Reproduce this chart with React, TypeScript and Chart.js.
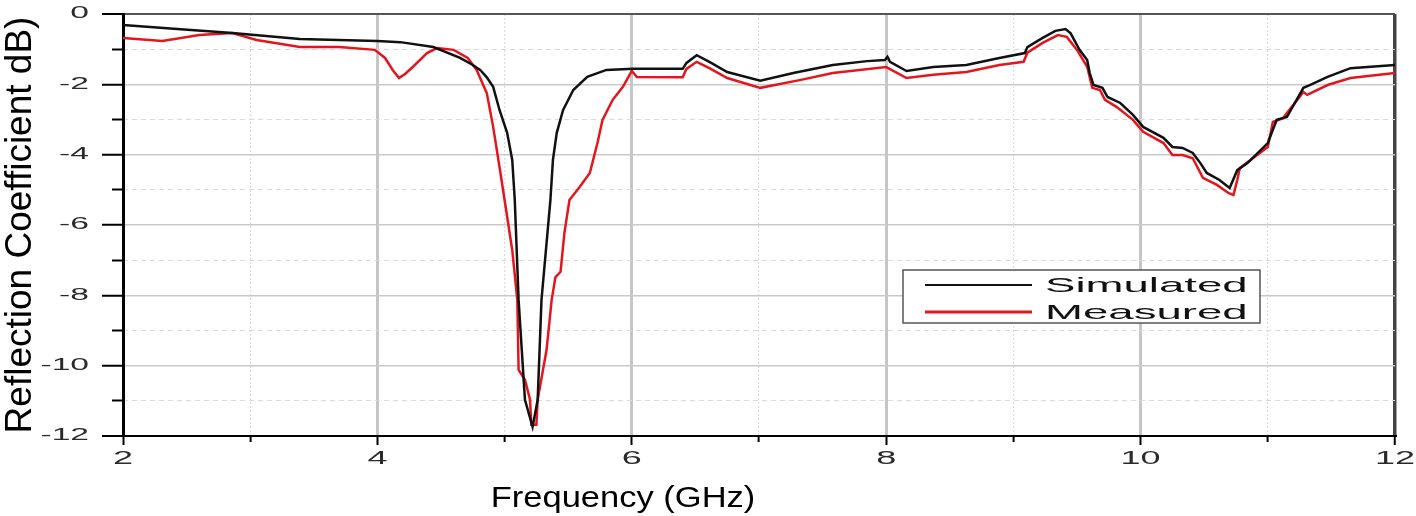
import React, { useEffect, useRef } from "react";
import { Chart, registerables } from "chart.js";

Chart.register(...registerables);

const FONT = "'Liberation Sans', Arial, Helvetica, sans-serif";

// ---- data ----
const simFreq = [2.0, 2.4, 2.86, 3.39, 4.0, 4.18, 4.44, 4.65, 4.75, 4.81, 4.86, 4.91, 4.96, 5.02, 5.06, 5.08, 5.11, 5.16, 5.22, 5.26, 5.29, 5.36, 5.38, 5.41, 5.46, 5.54, 5.65, 5.8, 6.01, 6.4, 6.43, 6.51, 6.61, 6.75, 7.01, 7.27, 7.58, 7.85, 7.99, 8.01, 8.03, 8.16, 8.37, 8.63, 8.89, 9.09, 9.11, 9.23, 9.33, 9.41, 9.45, 9.52, 9.58, 9.6, 9.63, 9.7, 9.74, 9.84, 9.94, 10.02, 10.18, 10.25, 10.33, 10.41, 10.47, 10.52, 10.62, 10.7, 10.76, 10.84, 11.0, 11.07, 11.15, 11.28, 11.33, 11.47, 11.65, 12.0];
const simDb = [-0.31, -0.42, -0.54, -0.71, -0.77, -0.8, -0.94, -1.25, -1.45, -1.6, -1.8, -2.07, -2.73, -3.38, -4.15, -5.29, -8.13, -10.97, -11.74, -10.97, -8.13, -5.29, -4.15, -3.38, -2.73, -2.16, -1.79, -1.59, -1.56, -1.56, -1.39, -1.17, -1.36, -1.65, -1.9, -1.68, -1.45, -1.34, -1.31, -1.22, -1.36, -1.62, -1.51, -1.45, -1.25, -1.11, -0.94, -0.68, -0.48, -0.43, -0.55, -1.02, -1.31, -1.68, -2.02, -2.1, -2.36, -2.53, -2.87, -3.21, -3.52, -3.78, -3.81, -3.95, -4.24, -4.52, -4.72, -4.95, -4.44, -4.24, -3.67, -3.01, -2.93, -2.1, -2.02, -1.79, -1.54, -1.45];

const measFreq = [2.0, 2.31, 2.6, 2.86, 3.05, 3.39, 3.7, 3.98, 4.06, 4.12, 4.17, 4.22, 4.28, 4.39, 4.47, 4.6, 4.71, 4.78, 4.86, 4.91, 4.96, 5.0, 5.06, 5.1, 5.11, 5.16, 5.2, 5.21, 5.25, 5.26, 5.33, 5.37, 5.4, 5.44, 5.47, 5.51, 5.59, 5.67, 5.73, 5.77, 5.85, 5.93, 6.0, 6.04, 6.4, 6.43, 6.51, 6.61, 6.75, 7.01, 7.32, 7.58, 8.0, 8.16, 8.37, 8.63, 8.89, 9.08, 9.11, 9.23, 9.35, 9.42, 9.5, 9.58, 9.62, 9.68, 9.72, 9.81, 9.94, 10.02, 10.18, 10.25, 10.33, 10.41, 10.49, 10.6, 10.69, 10.73, 10.76, 10.78, 11.0, 11.04, 11.12, 11.28, 11.31, 11.47, 11.65, 12.0];
const measDb = [-0.68, -0.77, -0.6, -0.54, -0.74, -0.94, -0.94, -1.02, -1.25, -1.59, -1.82, -1.7, -1.5, -1.11, -0.97, -1.02, -1.25, -1.59, -2.25, -3.21, -4.35, -5.29, -6.71, -8.13, -10.12, -10.4, -10.97, -11.68, -11.68, -10.97, -9.55, -8.13, -7.48, -7.33, -6.23, -5.29, -4.92, -4.52, -3.67, -3.01, -2.44, -2.07, -1.62, -1.79, -1.8, -1.56, -1.36, -1.54, -1.82, -2.1, -1.88, -1.68, -1.51, -1.82, -1.73, -1.65, -1.45, -1.36, -1.1, -0.82, -0.6, -0.65, -1.02, -1.5, -2.1, -2.16, -2.44, -2.64, -3.01, -3.35, -3.67, -4.01, -4.01, -4.1, -4.66, -4.86, -5.09, -5.15, -4.72, -4.38, -3.78, -3.07, -2.96, -2.22, -2.3, -2.02, -1.82, -1.68];

const seriesLabels = ["Simulated", "Measured"];
const seriesColors = ["#111111", "#e3161e"];
const xMajorTicks = [2, 4, 6, 8, 10, 12];
const xMinorTicks = [3, 5, 7, 9, 11];
const yMajorTicks = [0, -2, -4, -6, -8, -10, -12];
const yMinorTicks = [-1, -3, -5, -7, -9, -11];
const xTitle = "Frequency (GHz)";
const yTitle = "Reflection Coefficient dB)";

function stretchText(ctx: any, text: string, x: number, y: number, font: string, sx: number, align: string, baseline: string, color: string) {
  ctx.save();
  ctx.font = font;
  ctx.fillStyle = color;
  ctx.textAlign = align;
  ctx.textBaseline = baseline;
  ctx.translate(x, y);
  ctx.scale(sx, 1);
  ctx.fillText(text, 0, 0);
  ctx.restore();
}

const textPlugin = {
  id: "stretchedText",
  afterDraw(chart: any) {
    const ctx = chart.ctx;
    const xs = chart.scales.x;
    const ys = chart.scales.y;
    // y tick labels
    ys.ticks.forEach((t: any, i: number) => {
      const py = ys.getPixelForValue(t.value);
      const lbl = ys.getLabels ? String(ys._tickLabels ? ys._tickLabels[i] : t.label) : t.label;
      stretchText(ctx, String(t.label ?? lbl), ys.right - 34, py, `16px ${FONT}`, 2.1, "right", "middle", "#2a2a2a");
    });
    // x tick labels
    xs.ticks.forEach((t: any) => {
      const px = xs.getPixelForValue(t.value);
      stretchText(ctx, String(t.label), px, xs.top + 23, `18px ${FONT}`, 2.0, "center", "middle", "#2a2a2a");
    });
    // x title
    stretchText(ctx, xTitle, 623, 507, `30px ${FONT}`, 1.15, "center", "alphabetic", "#000");

    // legend
    const bx = 903, by = 270, bw = 357, bh = 53;
    ctx.save();
    ctx.fillStyle = "#ffffff";
    ctx.fillRect(bx, by, bw, bh);
    ctx.strokeStyle = "#555";
    ctx.lineWidth = 1.5;
    ctx.strokeRect(bx, by, bw, bh);
    chart.data.datasets.forEach((ds: any, i: number) => {
      const ly = i === 0 ? 285 : 312;
      ctx.beginPath();
      ctx.strokeStyle = ds.borderColor;
      ctx.lineWidth = i === 0 ? 2 : 3;
      ctx.moveTo(925, ly);
      ctx.lineTo(1032, ly);
      ctx.stroke();
      stretchText(ctx, ds.label, 1045, ly + 1, `21px ${FONT}`, 2.17, "left", "middle", "#111");
    });
    ctx.restore();
  },
};

export default function App() {
  const ref = useRef<HTMLCanvasElement | null>(null);

  useEffect(() => {
    if (!ref.current) return;
    const chart = new Chart(ref.current, {
      type: "line",
      data: {
        datasets: [
          {
            label: seriesLabels[0],
            data: simFreq.map((f, i) => ({ x: f, y: simDb[i] })),
            borderColor: seriesColors[0],
            backgroundColor: seriesColors[0],
            borderWidth: 2.5,
            pointRadius: 0,
            tension: 0,
            xAxisID: "x",
            yAxisID: "y",
          },
          {
            label: seriesLabels[1],
            data: measFreq.map((f, i) => ({ x: f, y: measDb[i] })),
            borderColor: seriesColors[1],
            backgroundColor: seriesColors[1],
            borderWidth: 2.5,
            pointRadius: 0,
            tension: 0,
            xAxisID: "x",
            yAxisID: "y",
          },
        ],
      },
      options: {
        animation: false,
        responsive: true,
        maintainAspectRatio: false,
        layout: { padding: { top: 14, right: 21, left: 0, bottom: 0 } },
        plugins: { legend: { display: false }, tooltip: { enabled: false } },
        scales: {
          x: {
            type: "linear",
            position: "bottom",
            weight: 0,
            min: 2,
            max: 12,
            afterBuildTicks: (s: any) => { s.ticks = xMajorTicks.map((v) => ({ value: v })); },
            ticks: { display: false },
            grid: {
              color: (c: any) => (c.tick && c.tick.value === 2 ? "rgba(0,0,0,0)" : c.tick && c.tick.value === 12 ? "#454545" : "#c6c6c6"),
              lineWidth: (c: any) => (c.tick && c.tick.value === 12 ? 3.5 : 3),
              tickLength: 9,
              tickWidth: 2,
              tickColor: "#000",
            },
            border: { display: true, color: "#000", width: 2 },
            afterFit: (s: any) => { s.height = 80; },
          },
          x2: {
            type: "linear",
            position: "bottom",
            weight: -1,
            min: 2,
            max: 12,
            afterBuildTicks: (s: any) => { s.ticks = xMinorTicks.map((v) => ({ value: v })); },
            ticks: { display: false },
            grid: { color: "#dcdcdc", lineWidth: 1.2, tickLength: 6, tickWidth: 2, tickColor: "#000" },
            border: { display: false, dash: [2, 2] },
            afterFit: (s: any) => { s.height = 0; },
          },
          y: {
            type: "linear",
            position: "left",
            weight: 0,
            min: -12,
            max: 0,
            afterBuildTicks: (s: any) => { s.ticks = yMajorTicks.map((v) => ({ value: v })); },
            ticks: { display: false },
            grid: {
              color: (c: any) => (c.tick && c.tick.value === 0 ? "#555" : c.tick && c.tick.value === -12 ? "#000" : "#c9c9c9"),
              lineWidth: (c: any) => (c.tick && (c.tick.value === 0 || c.tick.value === -12) ? 2 : 1.5),
              tickLength: 21,
              tickWidth: 2,
              tickColor: "#000",
            },
            border: { display: true, color: "#000", width: 3 },
            title: {
              display: true,
              text: yTitle,
              color: "#000",
              font: { family: FONT, size: 37, lineHeight: 1 },
              padding: { top: 2, bottom: 0 },
            },
            afterFit: (s: any) => { s.width = 123; },
          },
          y2: {
            type: "linear",
            position: "left",
            weight: -1,
            min: -12,
            max: 0,
            afterBuildTicks: (s: any) => { s.ticks = yMinorTicks.map((v) => ({ value: v })); },
            ticks: { display: false },
            grid: { color: "#dadada", lineWidth: 1, tickLength: 11, tickWidth: 2, tickColor: "#000" },
            border: { display: false, dash: [5, 4] },
            afterFit: (s: any) => { s.width = 0; },
          },
        },
      } as any,
      plugins: [textPlugin],
    });
    return () => chart.destroy();
  }, []);

  return (
    <div style={{ position: "fixed", left: 0, top: 0, width: 1416, height: 516, background: "#fff" }}>
      <canvas ref={ref} />
    </div>
  );
}
